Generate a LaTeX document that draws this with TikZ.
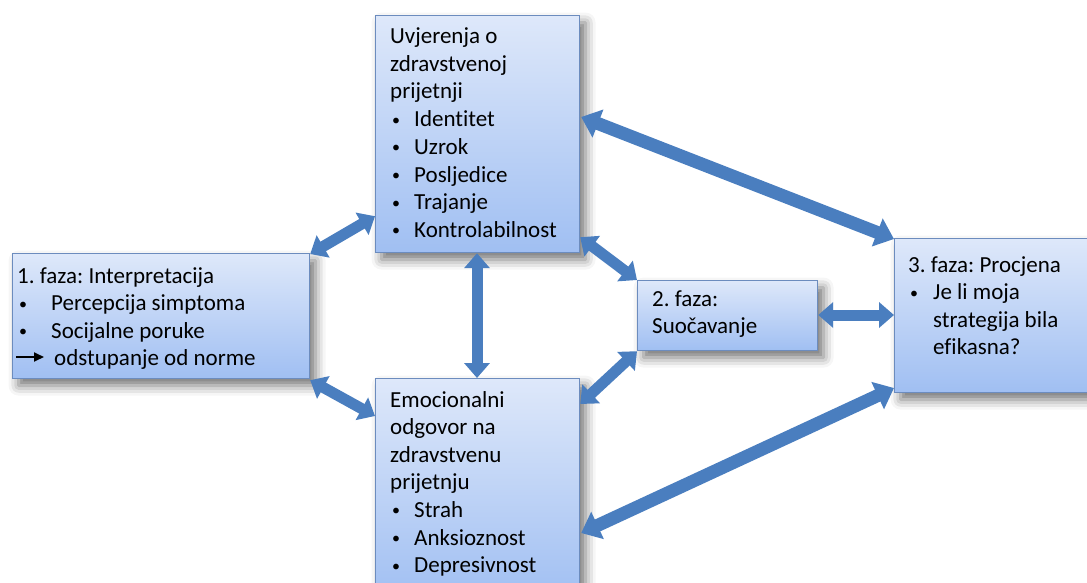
\documentclass[tikz,border=0pt]{standalone}
\usepackage{fontspec}
\setmainfont{Carlito}[Ligatures={NoCommon,NoRequired,NoContextual}]
\usetikzlibrary{arrows.meta,shadows.blur}
\definecolor{boxtop}{RGB}{222,232,250}
\definecolor{boxbot}{RGB}{160,191,242}
\definecolor{boxline}{RGB}{108,140,190}
\definecolor{arrowblue}{RGB}{74,126,191}
\tikzset{
  box/.style={draw=boxline, line width=1.2pt, top color=boxtop, bottom color=boxbot,
    anchor=north west, inner sep=0pt,
    blur shadow={shadow xshift=6pt, shadow yshift=-7pt, shadow blur radius=10pt, shadow opacity=55}},
  txt/.style={anchor=base west, inner sep=0pt, font=\fontsize{23}{27.6}\selectfont},
  biarrow/.style={draw=arrowblue, line width=11pt,
    {Triangle[length=15pt,width=25pt]}-{Triangle[length=15pt,width=25pt]}},
  bigarrow/.style={draw=arrowblue, line width=13pt,
    {Triangle[length=18pt,width=29pt]}-{Triangle[length=18pt,width=29pt]}},
}
\newcommand{\bul}[1]{\makebox[#1][l]{\hspace{2pt}\raisebox{1.5pt}{\fontsize{16}{16}\selectfont •}}}
\begin{document}
\frenchspacing
\begin{tikzpicture}[x=1pt,y=-1pt]
\useasboundingbox (0,0) rectangle (1087,582);
\clip (0,0) rectangle (1087,582);
% boxes
\node[box, minimum width=204pt, minimum height=237pt] (top) at (375,15) {};
\node[box, minimum width=297pt, minimum height=125pt] (left) at (12,253) {};
\node[box, minimum width=204pt, minimum height=222pt] (bot) at (375,378) {};
\node[box, minimum width=180pt, minimum height=70pt] (mid) at (637,280) {};
\node[box, minimum width=210pt, minimum height=154pt] (right) at (894,238) {};
% texts
\node[txt] (toptext) at (390,43.5) {\begin{minipage}[t]{190pt}\setlength{\baselineskip}{27.7pt}%
Uvjerenja o\\ zdravstvenoj\\ prijetnji\\
\bul{24pt}Identitet\\ \bul{24pt}Uzrok\\ \bul{24pt}Posljedice\\ \bul{24pt}Trajanje\\ \bul{24pt}Kontrolabilnost\end{minipage}};
\node[txt] (lefttext) at (17,283) {\begin{minipage}[t]{285pt}\setlength{\baselineskip}{27.5pt}%
1. faza: Interpretacija\\ \bul{34pt}Percepcija simptoma\\ \bul{34pt}Socijalne poruke\\ \hspace*{37pt}odstupanje od norme\end{minipage}};
\node[txt] (bottext) at (390,407) {\begin{minipage}[t]{190pt}\setlength{\baselineskip}{27.6pt}%
Emocionalni\\ odgovor na\\ zdravstvenu\\ prijetnju\\
\bul{24pt}Strah\\ \bul{24pt}Anksioznost\\ \bul{24pt}Depresivnost\end{minipage}};
\node[txt] (midtext) at (652,306) {\begin{minipage}[t]{160pt}\setlength{\baselineskip}{27.6pt}%
2. faza:\\ Suočavanje\end{minipage}};
\node[txt] (righttext) at (908,272) {\begin{minipage}[t]{178pt}\setlength{\baselineskip}{27.6pt}%
3. faza: Procjena\\ \bul{25pt}Je li moja\\ \hspace*{25pt}strategija bila\\ \hspace*{25pt}efikasna?\end{minipage}};
% small arrow glyph in left box
\coordinate (ga) at (16,357);
\coordinate (gb) at (44,357);
\draw[line width=1.8pt, -{Triangle[length=10pt,width=9pt]}] (ga) -- (gb);
% connectors
\draw[biarrow] ([yshift=-1pt]left.north east) -- ([yshift=37pt]top.south west);
\draw[biarrow] ([yshift=-1pt]left.south east) -- ([yshift=-38pt]bot.north west);
\draw[biarrow] ([xshift=102pt]top.south west) -- ([xshift=102pt]bot.north west);
\draw[biarrow] ([yshift=16pt]top.south east) -- (mid.north west);
\draw[biarrow] (mid.south west) -- ([yshift=-26pt]bot.north east);
\draw[biarrow] ([yshift=-35pt]mid.north east) -- ([yshift=-77pt]right.north west);
\draw[bigarrow] ([xshift=1pt,yshift=-102pt]top.north east) -- ([yshift=-1pt]right.north west);
\draw[bigarrow] ([xshift=1pt,yshift=-155pt]bot.north east) -- ([yshift=-150pt]right.north west);
\end{tikzpicture}
\end{document}
